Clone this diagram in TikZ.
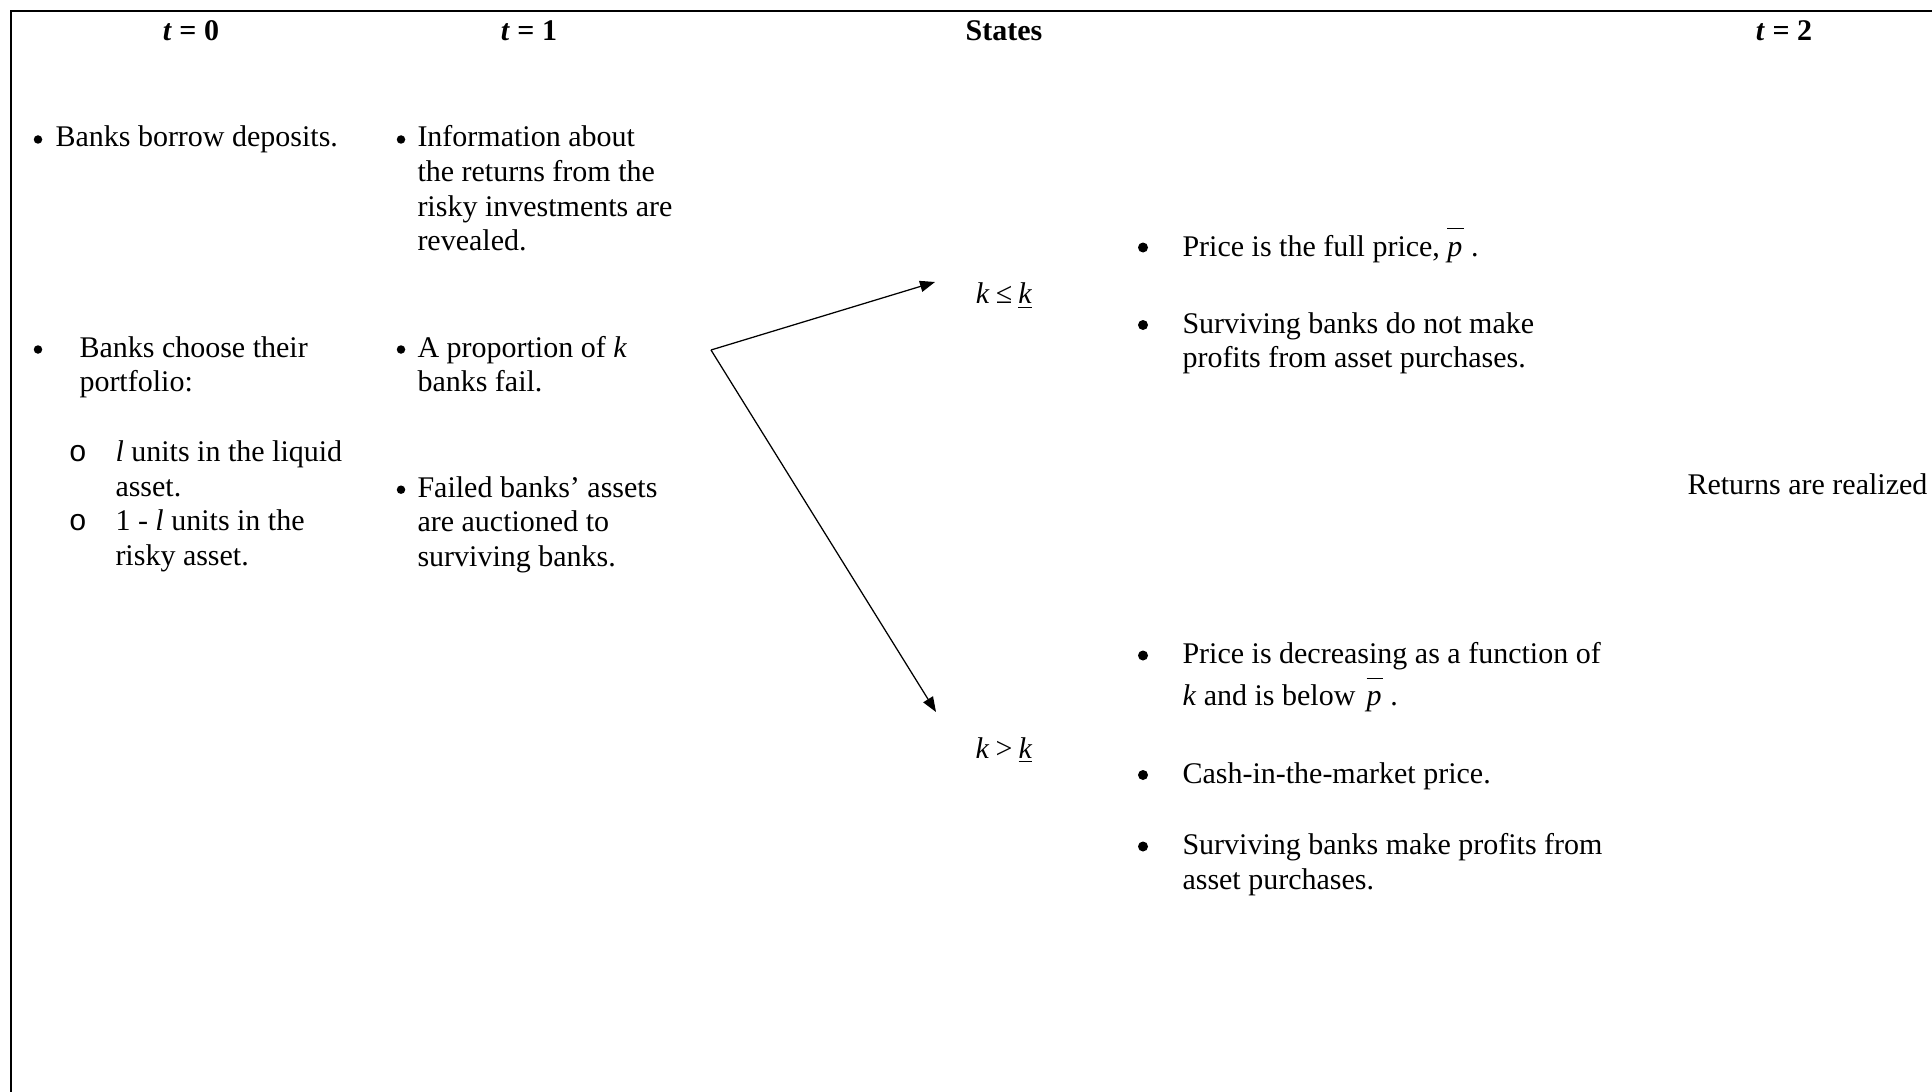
\documentclass[tikz,border=0pt]{standalone}
\usepackage{fontspec}
\setmainfont{Liberation Serif}
\setmonofont{Liberation Mono}
\usetikzlibrary{arrows.meta}
\newcommand{\myPbar}{\smash{$\overline{\rule{0pt}{9.5pt}\smash{\textit{p}}\hspace{0.5pt}}$}}
\newcommand{\mylines}[1]{\parbox[t]{400pt}{\raggedright #1}}
\begin{document}
\begin{tikzpicture}[x=0.4pt,y=-0.4pt,
  font=\fontsize{12}{13.8}\selectfont,
  txt/.style={anchor=base west, inner sep=0pt},
  hdr/.style={anchor=base, inner sep=0pt, font=\fontsize{12}{13.8}\selectfont\bfseries},
  bul/.style={circle, fill, inner sep=0pt, minimum size=3.4pt},
  bigbul/.style={circle, fill, inner sep=0pt, minimum size=4pt},
  sub/.style={anchor=base, inner sep=0pt, font=\fontsize{12}{13.8}\selectfont\ttfamily},
  state/.style={anchor=base, inner sep=0pt},
  arr/.style={line width=0.5pt, -{Triangle[length=6pt,width=4.5pt]}},
  frame/.style={line width=0.7pt}]
\useasboundingbox (0,0) rectangle (1932,1092);
% frame (top and left edges)
\draw[frame] (11,1100) -- (11,11) -- (1940,11);
% headers
\node[hdr] (h0) at (191,41) {\textit{t} = 0};
\node[hdr] (h1) at (529,41) {\textit{t} = 1};
\node[hdr] (hS) at (1004,41) {States};
\node[hdr] (h2) at (1784,41) {\textit{t} = 2};
% column t = 0
\node[bul] (b01) at (38,139.5) {};
\node[txt] (t01) at (55,147) {Banks borrow deposits.};
\node[bul] (b02) at (38,349.5) {};
\node[txt] (t02) at (79,357) {\mylines{Banks choose their\\portfolio:}};
\node[sub] (o1) at (78,461.5) {o};
\node[txt] (t03) at (115,461.5) {\mylines{\textit{l} units in the liquid\\asset.}};
\node[sub] (o2) at (78,530.5) {o};
\node[txt] (t04) at (115,530.5) {\mylines{1 - \textit{l} units in the\\risky asset.}};
% column t = 1
\node[bul] (b11) at (401,139.5) {};
\node[txt] (t11) at (417,147) {\mylines{Information about\\the returns from the\\risky investments are\\revealed.}};
\node[bul] (b12) at (401,349.5) {};
\node[txt] (t12) at (417,357) {\mylines{A proportion of \textit{k}\\banks fail.}};
\node[bul] (b13) at (401,489.7) {};
\node[txt] (t13) at (417,497.2) {\mylines{Failed banks’ assets\\are auctioned to\\surviving banks.}};
% states
\coordinate (fork) at (711,350);
\coordinate (tipU) at (935,282);
\coordinate (tipD) at (936,712);
\node[state] (sU) at (1004,303.5) {\textit{k}\hspace{2.5pt}≤\hspace{2.5pt}\underline{\textit{k}}};
\node[state] (sD) at (1004,758) {\textit{k}\hspace{2.5pt}>\hspace{2.5pt}\underline{\textit{k}}};
\draw[arr] (fork) -- (tipU);
\draw[arr] (fork) -- (tipD);
% right column
\node[bigbul] (r1) at (1143,247.5) {};
\node[txt] (tr1) at (1182,256) {Price is the full price, \myPbar\ .};
\node[bigbul] (r2) at (1143,325) {};
\node[txt] (tr2) at (1182,333.3) {\mylines{Surviving banks do not make\\profits from asset purchases.}};
\node[bigbul] (r3) at (1143,655.5) {};
\node[txt] (tr3) at (1182,663.5) {\mylines{Price is decreasing as a function of\\[2.9pt]\textit{k} and is below\hspace{4.5pt}\myPbar\ .}};
\node[bigbul] (r4) at (1143,775) {};
\node[txt] (tr4) at (1182,783) {Cash-in-the-market price.};
\node[bigbul] (r5) at (1143,846.5) {};
\node[txt] (tr5) at (1182,854.5) {\mylines{Surviving banks make profits from\\asset purchases.}};
% t = 2
\node[txt] (ret) at (1687,494.7) {Returns are realized};
\end{tikzpicture}
\end{document}
